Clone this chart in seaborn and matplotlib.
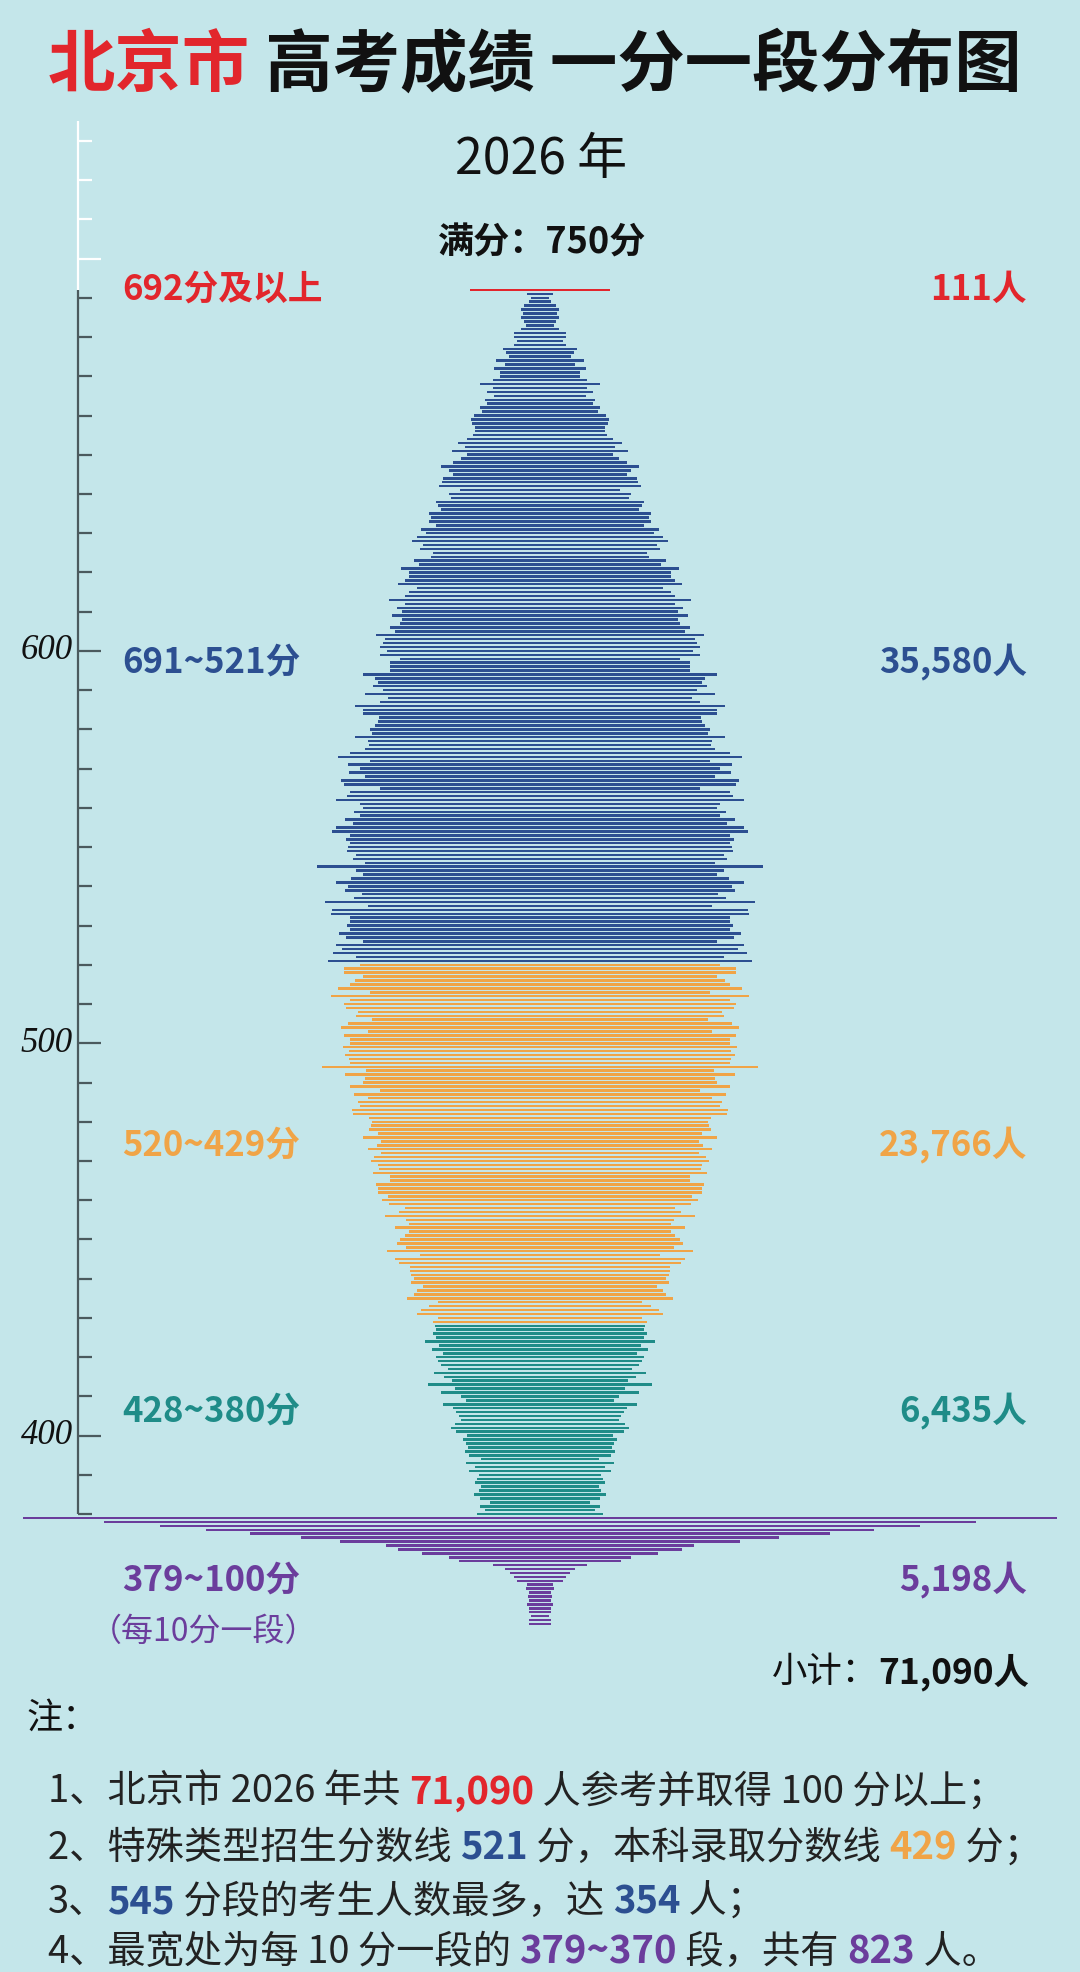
import numpy as np
import pandas as pd
import seaborn as sns
import matplotlib.pyplot as plt

# people per score
top_count = 111  # 692 and above

blue_scores = list(range(691, 520, -1))
blue_counts = [21, 15, 17, 26, 31, 27, 30, 26, 22, 30,
               42, 41, 36, 42, 59, 54, 49, 70, 55, 73,
               63, 63, 74, 96, 75, 85, 73, 88, 85, 96,
               92, 105, 109, 108, 103, 104, 106, 116, 131, 119,
               140, 116, 126, 138, 158, 144, 139, 155, 156, 161,
               128, 145, 141, 165, 162, 158, 177, 173, 176, 166,
               189, 181, 195, 203, 186, 191, 170, 174, 200, 193,
               221, 209, 208, 215, 226, 196, 208, 215, 240, 215,
               228, 220, 235, 220, 222, 238, 230, 261, 246, 249,
               255, 243, 255, 223, 239, 239, 239, 282, 263, 257,
               265, 249, 278, 241, 255, 295, 282, 281, 256, 258,
               262, 270, 268, 294, 273, 272, 278, 303, 322, 270,
               306, 286, 304, 279, 317, 312, 255, 302, 307, 324,
               287, 281, 296, 287, 310, 297, 324, 331, 302, 309,
               303, 306, 307, 292, 297, 278, 354, 293, 282, 301,
               324, 306, 310, 283, 296, 342, 274, 331, 333, 303,
               302, 307, 302, 320, 309, 282, 325, 315, 329, 292,
               337]

orange_scores = list(range(520, 428, -1))
orange_counts = [287, 311, 311, 281, 294, 303, 322, 271, 332, 303,
                 311, 309, 290, 293, 267, 305, 316, 273, 311, 302,
                 302, 314, 304, 310, 304, 302, 347, 276, 310, 278,
                 282, 302, 254, 296, 274, 289, 287, 299, 297, 272,
                 268, 269, 272, 257, 281, 253, 260, 274, 253, 264,
                 269, 257, 256, 265, 238, 238, 261, 257, 257, 241,
                 252, 240, 215, 224, 246, 213, 208, 231, 209, 214,
                 223, 228, 213, 244, 191, 231, 224, 207, 207, 206,
                 201, 206, 186, 196, 200, 212, 162, 176, 189, 196,
                 163, 170]

teal_scores = list(range(428, 379, -1))
teal_counts = [167, 166, 171, 166, 183, 160, 172, 154, 166, 163,
               158, 147, 168, 152, 140, 178, 136, 158, 125, 118,
               155, 139, 133, 129, 125, 136, 142, 134, 116, 123,
               118, 115, 120, 113, 94, 117, 103, 113, 97, 101,
               103, 94, 97, 105, 96, 80, 95, 88, 100]

# below 380: ten points per segment
purple_bins = [f"{hi}~{hi - 9}" for hi in range(379, 100, -10)]
purple_counts = [823, 693, 605, 532, 461, 380, 318, 245, 226, 187,
                 145, 129, 75, 55, 48, 41, 37, 20, 23, 17,
                 19, 17, 20, 17, 17, 14, 17, 17]

groups = ["692分及以上", "691~521分", "520~429分", "428~380分", "379~100分"]
group_totals = ["111人", "35,580人", "23,766人", "6,435人", "5,198人"]

BG = "#c4e6ea"
RED = "#e2262c"
BLUE = "#2c4f91"
ORANGE = "#f0a447"
TEAL = "#1f8c88"
PURPLE = "#6b3d9c"
palette = dict(zip(groups, [RED, BLUE, ORANGE, TEAL, PURPLE]))

df = pd.concat([
    pd.DataFrame({"pos": [692], "count": [top_count], "group": groups[0]}),
    pd.DataFrame({"pos": blue_scores, "count": blue_counts, "group": groups[1]}),
    pd.DataFrame({"pos": orange_scores, "count": orange_counts, "group": groups[2]}),
    pd.DataFrame({"pos": teal_scores, "count": teal_counts, "group": groups[3]}),
    # segments stacked one step apart under the 380 line
    pd.DataFrame({"pos": [379 - i for i in range(len(purple_bins))],
                  "count": purple_counts, "group": groups[4]}),
], ignore_index=True)
df["half"] = df["count"] / 2

sns.set_theme(style="white")
plt.rcParams["font.family"] = ["Noto Sans CJK SC", "DejaVu Sans"]

W, H = 1080, 1972
fig = plt.figure(figsize=(W / 100, H / 100), dpi=100)
fig.patch.set_facecolor(BG)
ax = fig.add_axes([0, 0, 1, 1])
ax.set_facecolor(BG)

# centred bars: one half to each side
for sign in (1, -1):
    sns.barplot(data=df.assign(x=sign * df["half"]), x="x", y="pos", hue="group",
                palette=palette, hue_order=groups, orient="y", native_scale=True,
                dodge=False, width=0.64, saturation=1, errorbar=None,
                legend=False, linewidth=0, ax=ax)

ax.set_xlim(-429.5, 429.5)
ax.set_ylim(263.3, 765.9)
ax.axis("off")

# score axis on the left
AX_X = -367.5
DARK = "#4b5a5e"
ax.plot([AX_X, AX_X], [380, 692], color=DARK, lw=1.6, solid_capstyle="butt")
for s in range(380, 700, 10):
    ln = 18 if s % 100 == 0 else 11
    ax.plot([AX_X, AX_X + ln], [s, s], color=DARK, lw=1.6, solid_capstyle="butt")
    if s % 100 == 0:
        ax.text(AX_X - 4, s, str(s), ha="right", va="center", fontsize=25,
                family="Liberation Serif", style="italic", color="#111111")
ax.plot([AX_X, AX_X], [692, 735], color="white", lw=1.6, solid_capstyle="butt")
for s in range(700, 740, 10):
    ln = 18 if s % 100 == 0 else 11
    ax.plot([AX_X, AX_X + ln], [s, s], color="white", lw=1.6, solid_capstyle="butt")


def fp(x, y):
    return x / W, 1 - y / H


def rich(x, y, parts, size):
    txt, col, bold = parts[0]
    t = fig.text(*fp(x, y), txt, color=col, fontsize=size, va="center",
                 fontweight="bold" if bold else "normal")
    for txt, col, bold in parts[1:]:
        t = ax.annotate(txt, xy=(1, 0.5), xycoords=t, va="center", color=col,
                        fontsize=size, fontweight="bold" if bold else "normal")


# title
rich(48, 66, [("北京市", RED, True), (" 高考成绩 一分一段分布图", "#111111", True)], 48.5)
fig.text(*fp(541, 160), "2026 年", ha="center", va="center", fontsize=36, color="#111111")
fig.text(*fp(541, 243), "满分：750分", ha="center", va="center", fontsize=26,
         fontweight="bold", color="#111111")

# group labels left / totals right
label_y = [289, 662, 1145, 1411, 1580]
for g, tot, y in zip(groups, group_totals, label_y):
    c = palette[g]
    fig.text(*fp(122, y), g, ha="left", va="center", fontsize=25, fontweight="bold", color=c)
    fig.text(*fp(1027, y), tot, ha="right", va="center", fontsize=25, fontweight="bold", color=c)
fig.text(*fp(90, 1632), "（每10分一段）", ha="left", va="center", fontsize=23, color=PURPLE)

rich(772, 1672, [("小计：", "#111111", False), ("71,090人", "#111111", True)], 25.5)

# notes
fig.text(*fp(26, 1719), "注：", ha="left", va="center", fontsize=26, color="#111111")
K = "#222222"
notes = [
    [("1、北京市 2026 年共 ", K, False), ("71,090", RED, True),
     (" 人参考并取得 100 分以上；", K, False)],
    [("2、特殊类型招生分数线 ", K, False), ("521", BLUE, True),
     (" 分，本科录取分数线 ", K, False), ("429", ORANGE, True), (" 分；", K, False)],
    [("3、", K, False), ("545", BLUE, True), (" 分段的考生人数最多，达 ", K, False),
     ("354", BLUE, True), (" 人；", K, False)],
    [("4、最宽处为每 10 分一段的 ", K, False), ("379~370", PURPLE, True),
     (" 段，共有 ", K, False), ("823", PURPLE, True), (" 人。", K, False)],
]
for parts, y in zip(notes, [1792, 1848, 1902, 1952]):
    rich(48, y, parts, 27.5)

fig.savefig("out.png", dpi=100, facecolor=BG)
